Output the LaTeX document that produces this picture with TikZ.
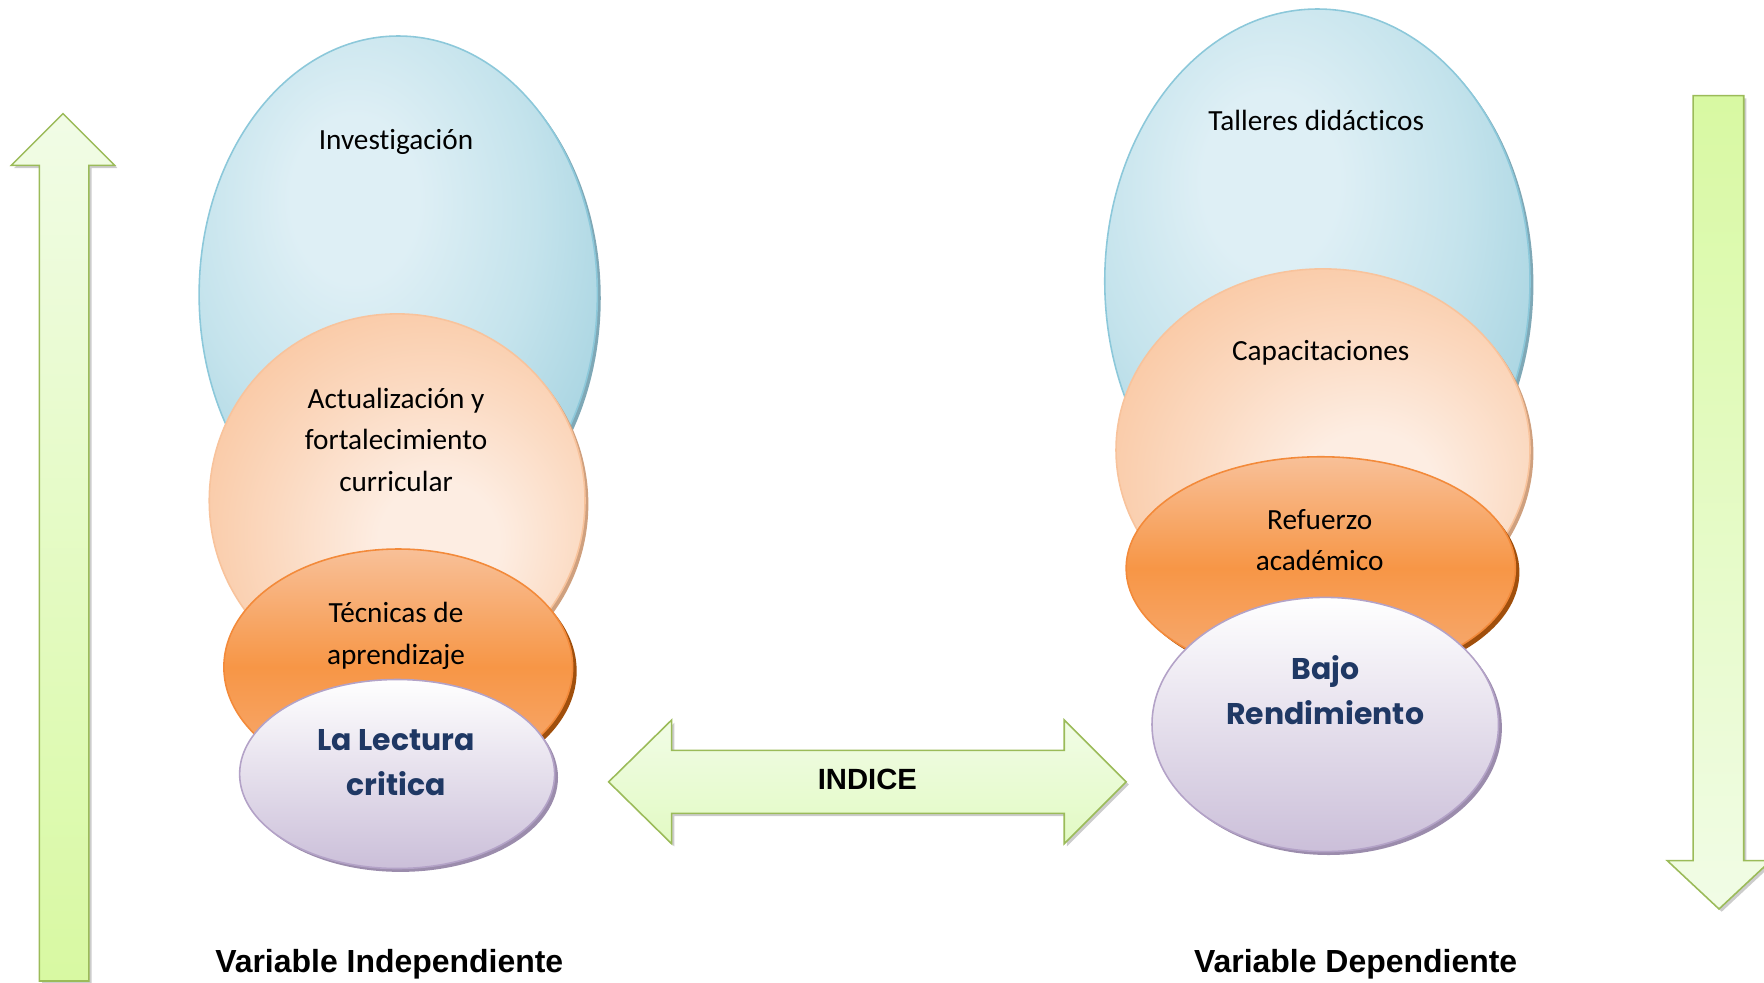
\documentclass[tikz,border=0pt]{standalone}
\usepackage{fontspec}
\setmainfont{Carlito}[Ligatures=NoCommon]
\newfontfamily\titlefont{Poppins}
\newfontfamily\arialfont{Liberation Sans}
\usetikzlibrary{shapes.geometric,shadows}
\definecolor{bluelight}{HTML}{DEEFF5}
\definecolor{bluemid}{HTML}{C4E3EC}
\definecolor{bluedark}{HTML}{A2D1DF}
\definecolor{blueedge}{HTML}{8CC8DA}
\definecolor{blueshadow}{HTML}{7FA8B6}
\definecolor{peachlight}{HTML}{FDEDE2}
\definecolor{peachmid}{HTML}{FBD9C0}
\definecolor{peachdark}{HTML}{F9C59E}
\definecolor{peachedge}{HTML}{F8C39C}
\definecolor{peachshadow}{HTML}{CFA07E}
\definecolor{orangetop}{HTML}{F8C098}
\definecolor{orangemid}{HTML}{F79646}
\definecolor{orangebot}{HTML}{F6AD78}
\definecolor{orangeedge}{HTML}{F38A3A}
\definecolor{orangeshadow}{HTML}{A04F0C}
\definecolor{purpbot}{HTML}{CBBFD9}
\definecolor{purpedge}{HTML}{B3A2C7}
\definecolor{purpshadow}{HTML}{9B8CAC}
\definecolor{greenlight}{HTML}{F1FCE6}
\definecolor{greendark}{HTML}{D8F9A2}
\definecolor{greenmid}{HTML}{E2FAC3}
\definecolor{greenedge}{HTML}{9BBB59}
\definecolor{titleblue}{HTML}{1F3864}
\pgfdeclareradialshading{blueshade}{\pgfpoint{-6bp}{10bp}}{color(0bp)=(bluelight); color(8bp)=(bluelight); color(22bp)=(bluemid); color(36bp)=(bluedark); color(100bp)=(bluedark)}
\pgfdeclareradialshading{peachshade}{\pgfpoint{6bp}{-6bp}}{color(0bp)=(peachlight); color(8bp)=(peachlight); color(21bp)=(peachmid); color(35bp)=(peachdark); color(100bp)=(peachdark)}
\tikzset{
  ell/.style={ellipse, inner sep=0pt, line width=0.7pt},
  blueell/.style={ell, draw=blueedge, shading=blueshade,
    drop shadow={shadow xshift=1.5pt, shadow yshift=-1.5pt, fill=blueshadow, opacity=1}},
  peachell/.style={ell, draw=peachedge, shading=peachshade,
    drop shadow={shadow xshift=1.5pt, shadow yshift=-1.5pt, fill=peachshadow, opacity=1}},
  orangeell/.style={ell, draw=orangeedge, top color=orangetop, bottom color=orangebot, middle color=orangemid,
    drop shadow={shadow xshift=1.8pt, shadow yshift=-1.8pt, fill=orangeshadow, opacity=1}},
  purpell/.style={ell, draw=purpedge, top color=white, bottom color=purpbot,
    drop shadow={shadow xshift=1.5pt, shadow yshift=-1.5pt, fill=purpshadow, opacity=1}},
  greenarrow/.style={draw=greenedge, line width=0.7pt, line join=miter,
    drop shadow={shadow xshift=1.2pt, shadow yshift=-1.2pt, fill=black, opacity=0.2}},
  lbl/.style={align=center, inner sep=0pt, font=\fontsize{13}{18.5}\selectfont},
  ttl/.style={align=center, inner sep=0pt, text=titleblue, font=\titlefont\bfseries\fontsize{13.3}{20}\selectfont},
  varlbl/.style={inner sep=0pt, font=\arialfont\bfseries\fontsize{14.2}{16}\selectfont},
}
\begin{document}
\begin{tikzpicture}[x=0.5pt, y=-0.5pt]
\useasboundingbox (0,0) rectangle (1568,873);
% side arrows
\path[greenarrow, top color=greenlight, bottom color=greendark]
  (35,872) -- (35,147) -- (10,147) -- (56,101) -- (102,147) -- (79,147) -- (79,872) -- cycle;
\path[greenarrow, top color=greendark, bottom color=greenlight]
  (1505,85) -- (1550,85) -- (1550,765) -- (1574,765) -- (1528,808) -- (1482,765) -- (1505,765) -- cycle;
% left stack
\node[blueell, minimum width=177pt, minimum height=230pt] (inv) at (354,262) {};
\node[peachell, minimum width=167pt, minimum height=166pt] (act) at (353,445) {};
\node[orangeell, minimum width=155pt, minimum height=105pt] (tec) at (354,593) {};
\node[purpell, minimum width=140pt, minimum height=84pt] (lec) at (353,688) {};
\node[lbl] (tinv) at (352,126) {Investigación};
\node[lbl] (tact) at (352,391) {Actualización y\\fortalecimiento\\curricular};
\node[lbl] (ttec) at (352,565) {Técnicas de\\aprendizaje};
\node[ttl] (tlec) at (352,678) {La Lectura\\critica};
% right stack
\node[blueell, minimum width=189pt, minimum height=242pt] (tal) at (1171,250) {};
\node[peachell, minimum width=184pt, minimum height=161pt] (cap) at (1176,400) {};
\node[orangeell, minimum width=173pt, minimum height=99pt] (ref) at (1174,505) {};
\node[purpell, minimum width=154pt, minimum height=113pt] (baj) at (1178,644) {};
\node[lbl] (ttal) at (1170,107) {Talleres didácticos};
\node[lbl] (tcap) at (1174,314) {Capacitaciones};
\node[lbl] (tref) at (1173,480) {Refuerzo\\académico};
\node[ttl] (tbaj) at (1178,613) {Bajo\\Rendimiento};
% INDICE double arrow
\path[greenarrow, top color=greenlight, bottom color=greenmid]
  (541,695) -- (597,640) -- (597,667) -- (946,667) -- (946,640) -- (1001,695)
  -- (946,750) -- (946,723) -- (597,723) -- (597,750) -- cycle;
\node[inner sep=0pt, font=\arialfont\bfseries\fontsize{13}{15}\selectfont] (ind) at (771,693) {INDICE};
% variable labels
\node[varlbl] (vind) at (346,857) {Variable Independiente};
\node[varlbl] (vdep) at (1205,857) {Variable Dependiente};
\end{tikzpicture}
\end{document}
